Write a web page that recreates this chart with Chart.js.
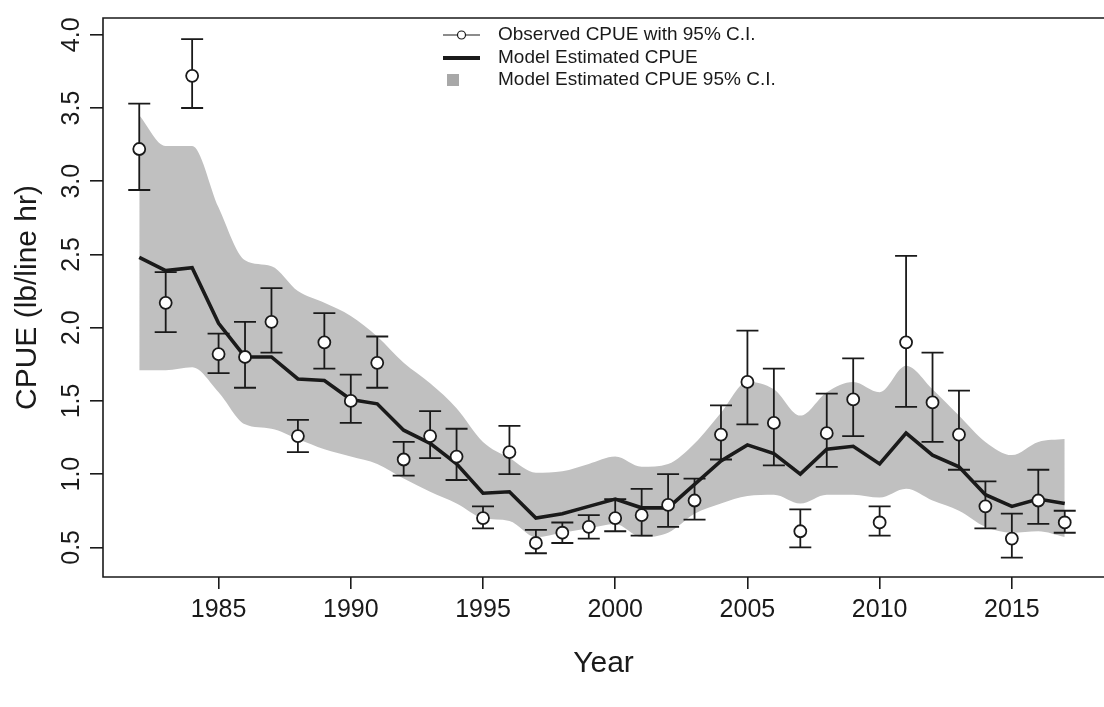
<!DOCTYPE html>
<html>
<head>
<meta charset="utf-8">
<script src="https://cdn.jsdelivr.net/npm/chart.js@4/dist/chart.umd.min.js"></script>
<style>
  html, body { margin: 0; padding: 0; background: #fff; }
  #wrap { width: 1104px; height: 707px; position: relative; }
</style>
</head>
<body>
<div id="wrap"><canvas id="cpueChart"></canvas></div>
<script>
// data
const years = [1982, 1983, 1984, 1985, 1986, 1987, 1988, 1989, 1990, 1991, 1992, 1993,
               1994, 1995, 1996, 1997, 1998, 1999, 2000, 2001, 2002, 2003, 2004, 2005,
               2006, 2007, 2008, 2009, 2010, 2011, 2012, 2013, 2014, 2015, 2016, 2017];

const observed = [3.22, 2.17, 3.72, 1.82, 1.80, 2.04, 1.26, 1.90, 1.50, 1.76, 1.10, 1.26,
                  1.12, 0.70, 1.15, 0.53, 0.60, 0.64, 0.70, 0.72, 0.79, 0.82, 1.27, 1.63,
                  1.35, 0.61, 1.28, 1.51, 0.67, 1.90, 1.49, 1.27, 0.78, 0.56, 0.82, 0.67];
const observedHi = [3.53, 2.38, 3.97, 1.96, 2.04, 2.27, 1.37, 2.10, 1.68, 1.94, 1.22, 1.43,
                    1.31, 0.78, 1.33, 0.62, 0.67, 0.72, 0.83, 0.90, 1.00, 0.97, 1.47, 1.98,
                    1.72, 0.76, 1.55, 1.79, 0.78, 2.49, 1.83, 1.57, 0.95, 0.73, 1.03, 0.75];
const observedLo = [2.94, 1.97, 3.50, 1.69, 1.59, 1.83, 1.15, 1.72, 1.35, 1.59, 0.99, 1.11,
                    0.96, 0.63, 1.00, 0.46, 0.53, 0.56, 0.61, 0.58, 0.64, 0.69, 1.10, 1.34,
                    1.06, 0.50, 1.05, 1.26, 0.58, 1.46, 1.22, 1.03, 0.63, 0.43, 0.66, 0.60];

const modelCpue = [2.48, 2.39, 2.41, 2.03, 1.80, 1.80, 1.65, 1.64, 1.51, 1.48, 1.30, 1.21,
                   1.07, 0.87, 0.88, 0.70, 0.73, 0.78, 0.83, 0.77, 0.77, 0.93, 1.09, 1.20,
                   1.14, 1.00, 1.17, 1.19, 1.07, 1.28, 1.13, 1.05, 0.86, 0.78, 0.83, 0.80];
const modelHi = [3.45, 3.24, 3.24, 2.82, 2.46, 2.42, 2.25, 2.17, 2.08, 1.94, 1.76, 1.62,
                 1.45, 1.22, 1.11, 1.01, 1.02, 1.07, 1.12, 1.05, 1.07, 1.21, 1.42, 1.63,
                 1.58, 1.40, 1.56, 1.63, 1.56, 1.74, 1.58, 1.40, 1.22, 1.13, 1.22, 1.24];
const modelLo = [1.71, 1.71, 1.73, 1.56, 1.34, 1.31, 1.24, 1.17, 1.12, 1.07, 0.97, 0.88,
                 0.80, 0.70, 0.68, 0.57, 0.60, 0.63, 0.66, 0.57, 0.60, 0.73, 0.80, 0.85,
                 0.86, 0.80, 0.86, 0.86, 0.84, 0.90, 0.82, 0.75, 0.64, 0.60, 0.61, 0.57];

const legendLabels = ['Observed CPUE with 95% C.I.', 'Model Estimated CPUE', 'Model Estimated CPUE 95% C.I.'];

const FONT = '"Liberation Sans", Arial, sans-serif';
const INK = '#1a1a1a';
const BAND = 'rgb(192,192,192)';

const pts = arr => years.map((y, i) => ({ x: y, y: arr[i] }));

// error bars, drawn just before the model line so the band sits below them
const errorBars = {
  id: 'errorBars',
  beforeDatasetDraw(chart, args) {
    if (args.index !== 2) return;
    const { ctx, scales: { x, y } } = chart;
    ctx.save();
    ctx.strokeStyle = INK;
    ctx.lineWidth = 1.8;
    years.forEach((yr, i) => {
      const px = x.getPixelForValue(yr);
      const top = y.getPixelForValue(observedHi[i]);
      const bot = y.getPixelForValue(observedLo[i]);
      ctx.beginPath();
      ctx.moveTo(px, top); ctx.lineTo(px, bot);
      ctx.moveTo(px - 11, top); ctx.lineTo(px + 11, top);
      ctx.moveTo(px - 11, bot); ctx.lineTo(px + 11, bot);
      ctx.stroke();
    });
    ctx.restore();
  }
};

// box, rotated y tick labels, axis titles and legend
const decorations = {
  id: 'decorations',
  afterDraw(chart) {
    const { ctx, chartArea: a, scales: { y } } = chart;
    ctx.save();
    ctx.strokeStyle = INK;
    ctx.lineWidth = 1.6;
    ctx.beginPath();
    ctx.moveTo(chart.width, a.top);
    ctx.lineTo(a.left, a.top);
    ctx.lineTo(a.left, a.bottom);
    ctx.lineTo(chart.width, a.bottom);
    ctx.stroke();

    ctx.fillStyle = INK;
    ctx.font = '25px ' + FONT;
    ctx.textAlign = 'center';
    ctx.textBaseline = 'middle';
    y.ticks.forEach(t => {
      ctx.save();
      ctx.translate(72, y.getPixelForValue(t.value));
      ctx.rotate(-Math.PI / 2);
      ctx.fillText(t.value.toFixed(1), 0, 0);
      ctx.restore();
    });

    ctx.font = '30px ' + FONT;
    ctx.save();
    ctx.translate(28, (a.top + a.bottom) / 2);
    ctx.rotate(-Math.PI / 2);
    ctx.fillText('CPUE (lb/line hr)', 0, 0);
    ctx.restore();
    ctx.fillText('Year', (a.left + chart.width) / 2, 664);

    // legend
    const lx = 443, tx = 498, rows = [35, 58, 80];
    ctx.lineWidth = 1.2;
    ctx.beginPath(); ctx.moveTo(lx, rows[0]); ctx.lineTo(lx + 37, rows[0]); ctx.stroke();
    ctx.fillStyle = '#fff';
    ctx.beginPath(); ctx.arc(lx + 18.5, rows[0], 4, 0, Math.PI * 2); ctx.fill(); ctx.stroke();
    ctx.lineWidth = 4;
    ctx.beginPath(); ctx.moveTo(lx, rows[1]); ctx.lineTo(lx + 37, rows[1]); ctx.stroke();
    ctx.fillStyle = '#a8a8a8';
    ctx.fillRect(lx + 4, rows[2] - 6, 12, 12);
    ctx.fillStyle = INK;
    ctx.font = '19px ' + FONT;
    ctx.textAlign = 'left';
    legendLabels.forEach((s, i) => ctx.fillText(s, tx, rows[i]));
    ctx.restore();
  }
};

const chart = new Chart(document.getElementById('cpueChart').getContext('2d'), {
  type: 'line',
  data: {
    datasets: [
      { label: 'bandHi', data: pts(modelHi), fill: '+1', backgroundColor: BAND,
        borderWidth: 0, pointRadius: 0, cubicInterpolationMode: 'monotone', order: 5 },
      { label: 'bandLo', data: pts(modelLo), fill: false, borderWidth: 0,
        pointRadius: 0, cubicInterpolationMode: 'monotone', order: 4 },
      { label: 'Model Estimated CPUE', data: pts(modelCpue), borderColor: INK,
        borderWidth: 3.6, pointRadius: 0, tension: 0, fill: false, order: 2 },
      { label: 'Observed CPUE', data: pts(observed), showLine: false, pointRadius: 6,
        pointBackgroundColor: '#fff', pointBorderColor: INK, pointBorderWidth: 1.8,
        fill: false, order: 1 }
    ]
  },
  options: {
    responsive: true,
    maintainAspectRatio: false,
    animation: false,
    layout: { padding: { top: 11, right: 0, left: 0, bottom: 0 } },
    plugins: { legend: { display: false }, tooltip: { enabled: false } },
    scales: {
      x: {
        type: 'linear',
        min: 1980.629,
        max: 2018.19,
        afterFit: s => { s.height = 130; },
        border: { display: false },
        grid: { drawOnChartArea: false, drawTicks: true, tickLength: 12, tickColor: INK, lineWidth: 1.6 },
        ticks: { stepSize: 5, includeBounds: false, color: INK, padding: 6,
                 font: { family: FONT, size: 25 }, maxRotation: 0, callback: v => String(v) }
      },
      y: {
        type: 'linear',
        min: 0.2977,
        max: 4.1146,
        afterFit: s => { s.width = 103; },
        border: { display: false },
        grid: { drawOnChartArea: false, drawTicks: true, tickLength: 13, tickColor: INK, lineWidth: 1.6 },
        ticks: { stepSize: 0.5, includeBounds: false, color: 'rgba(0,0,0,0)',
                 font: { family: FONT, size: 25 } }
      }
    }
  },
  plugins: [errorBars, decorations]
});
</script>
</body>
</html>
